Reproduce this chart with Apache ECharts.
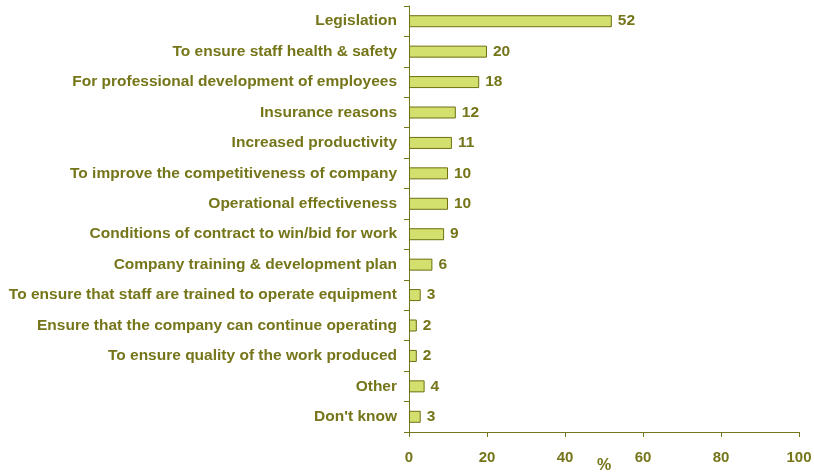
<!DOCTYPE html>
<html>
<head>
<meta charset="utf-8">
<script src="https://cdn.jsdelivr.net/npm/echarts@6/dist/echarts.min.js"></script>
<style>
  html, body { margin: 0; padding: 0; background: #fff; }
  #chart { width: 814px; height: 472px; }
</style>
</head>
<body>
<div id="chart"></div>
<script>
// Reasons for training, percentage of respondents
const categories = [
  "Legislation",
  "To ensure staff health & safety",
  "For professional development of employees",
  "Insurance reasons",
  "Increased productivity",
  "To improve the competitiveness of company",
  "Operational effectiveness",
  "Conditions of contract to win/bid for work",
  "Company training & development plan",
  "To ensure that staff are trained to operate equipment",
  "Ensure that the company can continue operating",
  "To ensure quality of the work produced",
  "Other",
  "Don't know"
];
const values = [52, 20, 18, 12, 11, 10, 10, 9, 6, 3, 2, 2, 4, 3];
const xTicks = [0, 20, 40, 60, 80, 100];

const olive = "#75751a";
const font = "Liberation Sans, Arial, sans-serif";

const chart = echarts.init(document.getElementById("chart"));
chart.setOption({
  animation: false,
  grid: { left: 409, right: 15, top: 6, bottom: 40, containLabel: false, outerBoundsMode: "none" },
  xAxis: {
    type: "value",
    min: xTicks[0],
    max: xTicks[xTicks.length - 1],
    interval: 20,
    name: "%",
    nameLocation: "middle",
    nameGap: 26,
    nameMoveOverlap: false,
    nameTextStyle: { color: olive, fontFamily: font, fontWeight: "bold", fontSize: 16, verticalAlign: "top" },
    axisLine: { show: true, lineStyle: { color: olive, width: 1 } },
    axisTick: { show: true, inside: false, length: 5, lineStyle: { color: olive } },
    axisLabel: { color: olive, fontFamily: font, fontWeight: "bold", fontSize: 15, margin: 18 },
    splitLine: { show: false }
  },
  yAxis: {
    type: "category",
    data: categories,
    inverse: true,
    axisLine: { show: true, lineStyle: { color: olive, width: 1 } },
    axisTick: { show: true, length: 5, lineStyle: { color: olive } },
    axisLabel: { color: olive, fontFamily: font, fontWeight: "bold", fontSize: 15.5, margin: 12 }
  },
  series: [{
    type: "bar",
    data: values,
    barWidth: 12,
    itemStyle: { color: "#d4e06e", borderColor: "#6f6f12", borderWidth: 1 },
    label: {
      show: true,
      position: "right",
      distance: 6,
      color: olive,
      fontFamily: font,
      fontWeight: "bold",
      fontSize: 15.5
    }
  }]
});
</script>
</body>
</html>
